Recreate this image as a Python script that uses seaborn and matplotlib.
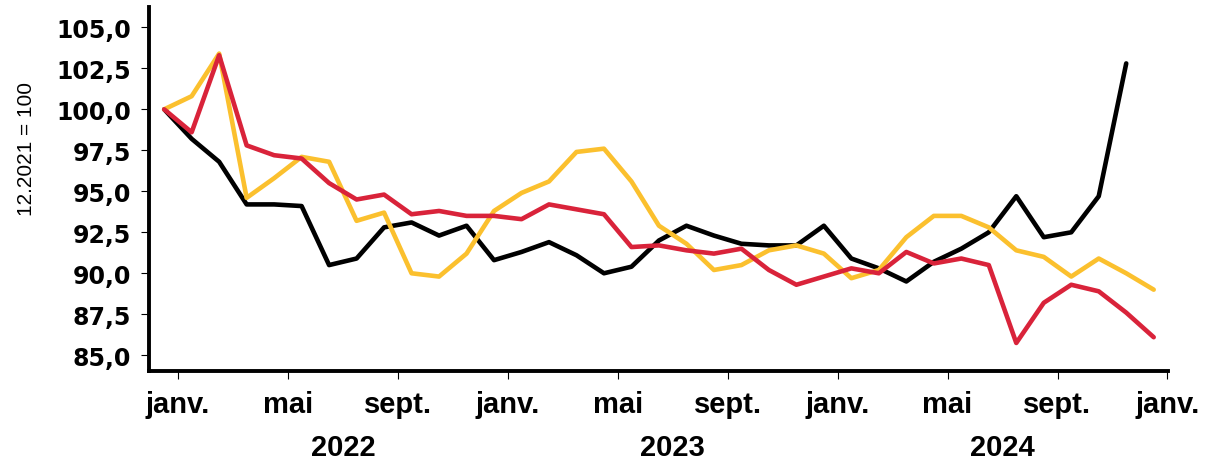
import numpy as np
import pandas as pd
import matplotlib
matplotlib.use("Agg")
import matplotlib.pyplot as plt
import seaborn as sns

# month index 0 = 12.2021 ... 36 = 12.2024
black = [100.0, 98.2, 96.8, 94.2, 94.2, 94.1, 90.5, 90.9, 92.8, 93.1, 92.3, 92.9,
         90.8, 91.3, 91.9, 91.1, 90.0, 90.4, 92.0, 92.9, 92.3, 91.8, 91.7, 91.7,
         92.9, 90.9, 90.3, 89.5, 90.7, 91.5, 92.5, 94.7, 92.2, 92.5, 94.7, 102.8, np.nan]
yellow = [100.0, 100.8, 103.4, 94.6, 95.8, 97.1, 96.8, 93.2, 93.7, 90.0, 89.8, 91.2,
          93.8, 94.9, 95.6, 97.4, 97.6, 95.6, 92.9, 91.8, 90.2, 90.5, 91.4, 91.7,
          91.2, 89.7, 90.2, 92.2, 93.5, 93.5, 92.8, 91.4, 91.0, 89.8, 90.9, 90.0, 89.0]
red = [100.0, 98.6, 103.3, 97.8, 97.2, 97.0, 95.5, 94.5, 94.8, 93.6, 93.8, 93.5,
       93.5, 93.3, 94.2, 93.9, 93.6, 91.6, 91.7, 91.4, 91.2, 91.5, 90.2, 89.3,
       89.8, 90.3, 90.0, 91.3, 90.6, 90.9, 90.5, 85.75, 88.2, 89.3, 88.9, 87.6, 86.1]

tick_labels = ["janv.", "mai", "sept."] * 3 + ["janv."]
years = ["2022", "2023", "2024"]
y_ticks = [85.0, 87.5, 90.0, 92.5, 95.0, 97.5, 100.0, 102.5, 105.0]

months = np.arange(len(yellow))
df = pd.DataFrame({"month": np.tile(months, 3),
                   "value": black + yellow + red,
                   "serie": ["black"] * 37 + ["yellow"] * 37 + ["red"] * 37})
palette = {"black": "#000000", "yellow": "#FBC02E", "red": "#D9233A"}

sns.set_style("white")
plt.rcParams["font.family"] = ["Liberation Sans", "DejaVu Sans"]
plt.rcParams.update({"text.color": "black", "axes.labelcolor": "black",
                     "xtick.color": "black", "ytick.color": "black"})

fig = plt.figure(figsize=(12.05, 4.6), dpi=100)
ax = fig.add_axes([0.1237, 0.1913, 0.8456, 0.7913])

sns.lineplot(data=df, x="month", y="value", hue="serie", palette=palette,
             linewidth=3.3, legend=False, ax=ax)

ax.set_xlim(-0.55, 36.52)
ax.set_ylim(84.04, 106.24)

# ticks at the start of january / may / september
ax.set_xticks(np.arange(0.5, 37, 4))
ax.set_xticklabels(tick_labels, fontsize=21, fontweight="bold")
ax.set_yticks(y_ticks)
ax.set_yticklabels([f"{v:.1f}".replace(".", ",") for v in y_ticks],
                   fontsize=17, fontweight="bold", family=["DejaVu Sans"])

ax.tick_params(axis="x", direction="out", length=6, width=0.8, pad=8, bottom=True)
ax.tick_params(axis="y", direction="out", length=6, width=0.8, pad=7, left=True)

for s in ["top", "right"]:
    ax.spines[s].set_visible(False)
for s in ["left", "bottom"]:
    ax.spines[s].set_linewidth(2.8)
    ax.spines[s].set_color("black")

ax.set_xlabel("")
ax.set_ylabel("12.2021 = 100", fontsize=15, color="black")
ax.yaxis.set_label_coords(-0.111, 0.613)

for i, yr in enumerate(years):
    ax.text(0.5 + 12 * i + 6, -0.21, yr, transform=ax.get_xaxis_transform(),
            ha="center", va="center", fontsize=21, fontweight="bold")

fig.savefig("out.png", dpi=100)
